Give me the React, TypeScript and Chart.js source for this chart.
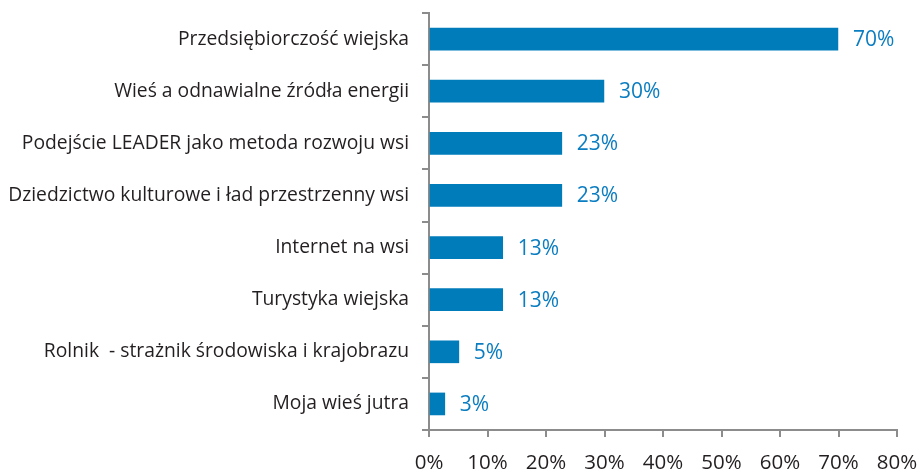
import React, { useEffect, useRef } from "react";
import { Chart, registerables } from "chart.js";

Chart.register(...registerables);

const categories = [
  "Przedsiębiorczość wiejska",
  "Wieś a odnawialne źródła energii",
  "Podejście LEADER jako metoda rozwoju wsi",
  "Dziedzictwo kulturowe i ład przestrzenny wsi",
  "Internet na wsi",
  "Turystyka wiejska",
  "Rolnik  - strażnik środowiska i krajobrazu",
  "Moja wieś jutra",
];
const values = [69.9, 29.9, 22.7, 22.7, 12.6, 12.6, 5.1, 2.7];
const valueLabels = ["70%", "30%", "23%", "23%", "13%", "13%", "5%", "3%"];
const xTicks = [0, 10, 20, 30, 40, 50, 60, 70, 80];

const FONT = "'Open Sans', sans-serif";

const valueLabelPlugin = {
  id: "valueLabels",
  afterDatasetsDraw(chart: any) {
    const ctx = chart.ctx;
    const meta = chart.getDatasetMeta(0);
    ctx.save();
    ctx.font = `21px ${FONT}`;
    ctx.fillStyle = "#0b7dc1";
    ctx.textAlign = "left";
    ctx.textBaseline = "middle";
    meta.data.forEach((bar: any, i: number) => {
      ctx.fillText(valueLabels[i], bar.x + 15, bar.y + 1);
    });
    ctx.restore();
  },
};

export default function App() {
  const ref = useRef<HTMLCanvasElement | null>(null);
  useEffect(() => {
    if (!ref.current) return;
    const chart = new Chart(ref.current, {
      type: "bar",
      data: {
        labels: categories,
        datasets: [
          {
            data: values,
            backgroundColor: "#007cba",
            barThickness: 22,
          },
        ],
      },
      options: {
        indexAxis: "y",
        animation: false,
        responsive: false,
        maintainAspectRatio: false,
        layout: { padding: { top: 13, right: 27, bottom: 0, left: 0 } },
        plugins: {
          legend: { display: false },
          tooltip: { enabled: false },
        },
        scales: {
          x: {
            min: 0,
            max: 80,
            afterBuildTicks: (scale: any) => {
              scale.ticks = xTicks.map((v) => ({ value: v }));
            },
            afterFit: (scale: any) => {
              scale.height = 42;
              scale.paddingLeft = 0;
              scale.paddingRight = 0;
            },
            border: { display: true, color: "#8c8c8c", width: 2 },
            grid: {
              drawOnChartArea: false,
              drawTicks: true,
              tickLength: 7,
              color: "#8c8c8c",
              lineWidth: 2,
            },
            ticks: {
              padding: 14,
              color: "#231f20",
              font: { family: FONT, size: 20.5 },
              callback: (v: any) => `${v}%`,
            },
          },
          y: {
            afterFit: (scale: any) => {
              scale.width = 429;
              scale.paddingTop = 0;
              scale.paddingBottom = 0;
            },
            border: { display: true, color: "#8c8c8c", width: 2 },
            grid: {
              offset: true,
              drawOnChartArea: false,
              drawTicks: true,
              tickLength: 7,
              color: "#8c8c8c",
              lineWidth: 2,
            },
            ticks: {
              padding: 13,
              color: "#231f20",
              font: { family: FONT, size: 19.3 },
            },
          },
        },
      },
      plugins: [valueLabelPlugin],
    });
    return () => chart.destroy();
  }, []);
  return (
    <div style={{ position: "fixed", left: 0, top: 0, width: 924, height: 472, background: "#fff" }}>
      <canvas ref={ref} width={924} height={472} style={{ width: 924, height: 472 }} />
    </div>
  );
}
